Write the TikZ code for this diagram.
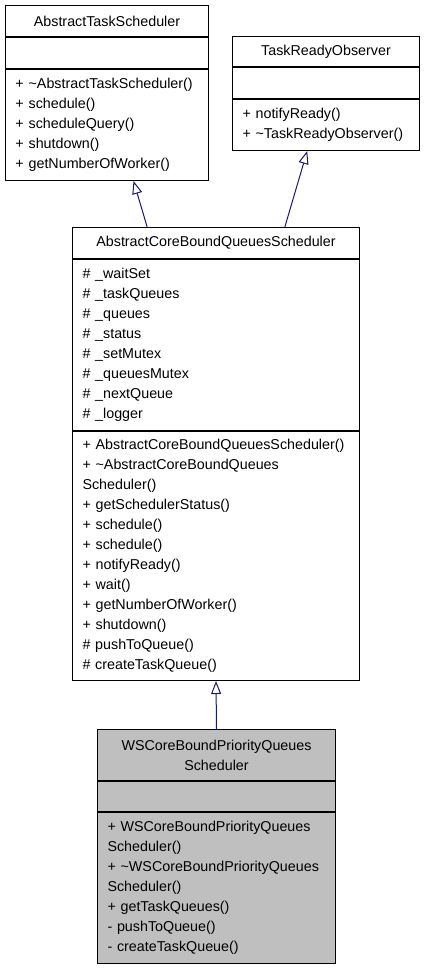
\documentclass[tikz,border=0pt]{standalone}
\usepackage{fontspec}
\setmainfont{Liberation Sans}
\usetikzlibrary{
  calc,%
  arrows.meta,%
  positioning
}
\definecolor{edgeblue}{HTML}{191970}
\definecolor{classgray}{HTML}{BFBFBF}
\tikzset{>=latex}
\tikzset{classpart/.style={draw=black, line width=1pt, rectangle, inner ysep=0pt, inner xsep=10pt,
    font=\fontsize{14.3}{20}\selectfont}}
\tikzset{classtitle/.style={classpart, align=center},
  classmembers/.style={classpart, align=left}}
\tikzset{inherit/.style={draw=edgeblue, line width=1pt, -{Triangle[open, length=13pt, width=10pt]}}}

\begin{document}
\begin{tikzpicture}[x=1pt, y=-1pt]
  \useasboundingbox (0,0) rectangle (424,968);
  % AbstractTaskScheduler
  \node[classtitle, text width=183pt, minimum height=31pt, anchor=north west] (atsTitle) at (5,5) {AbstractTaskScheduler};
  \node[classmembers, text width=183pt, minimum height=31pt, below=0pt of atsTitle] (atsAttr) {};
  \node[classmembers, text width=183pt, minimum height=111pt, below=0pt of atsAttr] (atsOps)
    {+ \textasciitilde AbstractTaskScheduler()\\+ schedule()\\+ scheduleQuery()\\+ shutdown()\\+ getNumberOfWorker()};
  % TaskReadyObserver
  \node[classtitle, text width=167pt, minimum height=30pt, anchor=north west] (troTitle) at (232,36) {TaskReadyObserver};
  \node[classmembers, text width=167pt, minimum height=31pt, below=0pt of troTitle] (troAttr) {};
  \node[classmembers, text width=167pt, minimum height=51pt, below=0pt of troAttr] (troOps)
    {+ notifyReady()\\+ \textasciitilde TaskReadyObserver()};
  % AbstractCoreBoundQueuesScheduler
  \node[classtitle, text width=267pt, minimum height=31pt, anchor=north west] (cbqTitle) at (72,227) {AbstractCoreBoundQueuesScheduler};
  \node[classmembers, text width=267pt, minimum height=171pt, below=0pt of cbqTitle] (cbqAttr)
    {\# \_waitSet\\\# \_taskQueues\\\# \_queues\\\# \_status\\\# \_setMutex\\\# \_queuesMutex\\\# \_nextQueue\\\# \_logger};
  \node[classmembers, text width=267pt, minimum height=249pt, below=0pt of cbqAttr] (cbqOps)
    {+ AbstractCoreBoundQueuesScheduler()\\+ \textasciitilde AbstractCoreBoundQueues\\Scheduler()\\+ getSchedulerStatus()\\+ schedule()\\+ schedule()\\+ notifyReady()\\+ wait()\\+ getNumberOfWorker()\\+ shutdown()\\\# pushToQueue()\\\# createTaskQueue()};
  % WSCoreBoundPriorityQueuesScheduler
  \node[classtitle, fill=classgray, text width=218pt, minimum height=51pt, anchor=north west] (wspTitle) at (97,729) {WSCoreBoundPriorityQueues\\Scheduler};
  \node[classmembers, fill=classgray, text width=218pt, minimum height=30pt, below=0pt of wspTitle] (wspAttr) {};
  \node[classmembers, fill=classgray, text width=218pt, minimum height=151pt, below=0pt of wspAttr] (wspOps)
    {+ WSCoreBoundPriorityQueues\\Scheduler()\\+ \textasciitilde WSCoreBoundPriorityQueues\\Scheduler()\\+ getTaskQueues()\\- pushToQueue()\\- createTaskQueue()};
  % inheritance
  \draw[inherit] ($(cbqTitle.north west)!0.261!(cbqTitle.north east)$) -- ($(atsOps.south west)!0.63!(atsOps.south east)$);
  \draw[inherit] ($(cbqTitle.north west)!0.739!(cbqTitle.north east)$) -- ($(troOps.south west)!0.40!(troOps.south east)$);
  \draw[inherit] (wspTitle.north) -- (cbqOps.south);
\end{tikzpicture}
\end{document}
